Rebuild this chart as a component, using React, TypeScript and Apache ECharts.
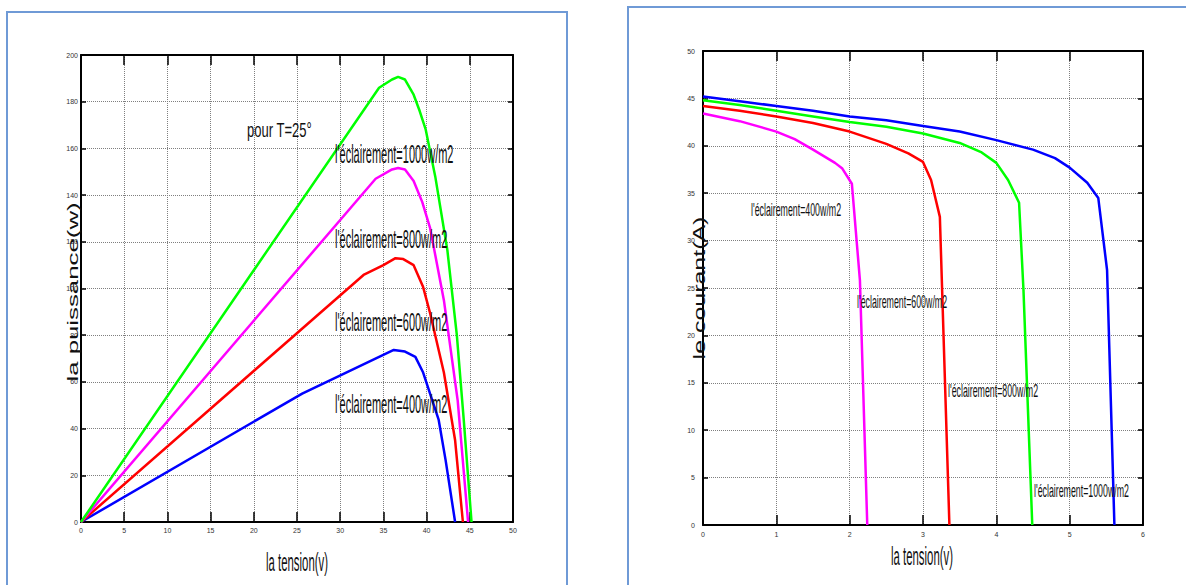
import React, { useEffect, useRef } from "react";
import * as echarts from "echarts";

// ---------- Left chart: P-V curves (la puissance vs la tension) ----------
const pv1000V = [0, 34.5, 36, 36.7, 37.5, 38.5, 39.2, 39.9, 41, 42.4, 43.5, 44.3, 45.2];
const pv1000P = [0, 186, 189.5, 190.6, 189.5, 183, 176, 168, 148, 116.5, 80, 43.7, 0];
const pv800V = [0, 34.1, 36, 36.7, 37.5, 38.5, 39.5, 40.4, 42, 43.6, 44.8];
const pv800P = [0, 147, 151, 151.6, 151, 146, 137, 126, 95, 52, 0];
const pv600V = [0, 32.7, 35, 36.4, 37.3, 38.5, 39.6, 40.4, 42, 43.3, 44.2];
const pv600P = [0, 105.8, 110, 113, 112.6, 110, 100.6, 89.5, 64, 35, 0];
const pv400V = [0, 25.6, 36.2, 37.5, 38.7, 39.6, 40.4, 41.4, 42.2, 43.3];
const pv400P = [0, 55, 73.7, 73, 70.7, 64, 55, 43.7, 26.5, 0];

// ---------- Right chart: I-V curves (le courant vs la tension) ----------
const iv1000V = [0, 0.5, 1, 1.5, 2, 2.5, 3, 3.5, 4, 4.5, 4.8, 5, 5.24, 5.39, 5.51, 5.61];
const iv1000I = [45.2, 44.7, 44.2, 43.7, 43.1, 42.7, 42.1, 41.5, 40.6, 39.6, 38.7, 37.7, 36.1, 34.5, 26.9, 0];
const iv800V = [0, 0.5, 1, 1.5, 2, 2.5, 3, 3.5, 3.8, 4.0, 4.16, 4.31, 4.37, 4.49];
const iv800I = [44.8, 44.3, 43.7, 43.1, 42.5, 42.0, 41.3, 40.3, 39.3, 38.2, 36.4, 34.0, 24.8, 0];
const iv600V = [0, 0.5, 1, 1.5, 2, 2.5, 2.8, 3.0, 3.11, 3.23, 3.36];
const iv600I = [44.2, 43.7, 43.1, 42.4, 41.5, 40.2, 39.2, 38.3, 36.4, 32.5, 0];
const iv400V = [0, 0.5, 1, 1.25, 1.5, 1.8, 1.9, 2.03, 2.14, 2.24];
const iv400I = [43.4, 42.6, 41.5, 40.7, 39.6, 38.2, 37.6, 36.0, 25.8, 0];

// Axis ranges
const pvXRange = [0, 50, 5];
const pvYRange = [0, 200, 20];
const ivXRange = [0, 6, 1];
const ivYRange = [0, 50, 5];

const pairs = (xs: number[], ys: number[]) => xs.map((x, i) => [x, ys[i]]);

export default function App() {
  const ref = useRef<HTMLDivElement>(null);
  useEffect(() => {
    const chart = echarts.init(ref.current!, null, { renderer: "svg", width: 1186, height: 585 });
    const narrow = "'Liberation Sans Narrow','Arial Narrow','Liberation Sans',sans-serif";
    const sans = "'Liberation Sans',Arial,sans-serif";
    const gridLine = { show: true, lineStyle: { color: "#7f7f7f", type: "dotted", width: 1 } };
    const axisLine = { show: true, onZero: false, lineStyle: { color: "#000", width: 2 } };
    const tick = (len: number) => ({ show: true, inside: true, length: len, lineStyle: { color: "#000", width: 1.5 } });
    const lbl = (size: number, margin: number) => ({ show: true, fontSize: size, fontFamily: narrow, color: "#333", margin });

    const mkAxes = (grid: number, r: number[], isX: boolean, size: number, margin: number, tickLen: number, tickLen2: number) => [
      {
        type: "value", gridIndex: grid, min: r[0], max: r[1], interval: r[2],
        position: isX ? "bottom" : "left",
        axisLine, axisTick: tick(tickLen), axisLabel: lbl(size, margin), splitLine: gridLine,
      },
      {
        type: "value", gridIndex: grid, min: r[0], max: r[1], interval: r[2],
        position: isX ? "top" : "right",
        axisLine, axisTick: tick(tickLen2), axisLabel: { show: false }, splitLine: { show: false },
      },
    ];

    const line = (xi: number, data: number[][], color: string) => ({
      type: "line", xAxisIndex: xi, yAxisIndex: xi, data, showSymbol: false, symbol: "none",
      lineStyle: { color, width: 2.5 }, itemStyle: { color }, z: 3,
    });

    const txt = (text: string, x: number, y: number, size: number, sx: number, align = "left", rot = 0) => ({
      type: "text", x, y, scaleX: sx, rotation: rot, silent: true, z: 10,
      style: { text, fontSize: size, fontFamily: sans, fill: "#111", textAlign: align, textVerticalAlign: "middle" },
    });

    chart.setOption({
      animation: false,
      backgroundColor: "#fff",
      grid: [
        { left: 81, top: 55, width: 432, height: 467 },
        { left: 703, top: 51, width: 440, height: 474 },
      ],
      xAxis: [
        ...mkAxes(0, pvXRange, true, 7, 5, 10, 10),
        ...mkAxes(1, ivXRange, true, 7, 6, 10, 10),
      ],
      yAxis: [
        ...mkAxes(0, pvYRange, false, 7, 3, 5, 5),
        ...mkAxes(1, ivYRange, false, 7, 8, 5, 5),
      ],
      series: [
        line(0, pairs(pv400V, pv400P), "#0000ff"),
        line(0, pairs(pv600V, pv600P), "#ff0000"),
        line(0, pairs(pv800V, pv800P), "#ff00ff"),
        line(0, pairs(pv1000V, pv1000P), "#00ff00"),
        line(2, pairs(iv400V, iv400I), "#ff00ff"),
        line(2, pairs(iv600V, iv600I), "#ff0000"),
        line(2, pairs(iv800V, iv800I), "#00ff00"),
        line(2, pairs(iv1000V, iv1000I), "#0000ff"),
      ],
      graphic: [
        { type: "rect", silent: true, z: -1, shape: { x: 7, y: 12, width: 560, height: 620 }, style: { fill: "none", stroke: "#6f9ad6", lineWidth: 2 } },
        { type: "rect", silent: true, z: -1, shape: { x: 628, y: 7, width: 620, height: 620 }, style: { fill: "none", stroke: "#6f9ad6", lineWidth: 2 } },
        txt("pour T=25°", 247, 130, 21, 0.62),
        txt("l'éclairement=1000w/m2", 335, 155, 25, 0.44),
        txt("l'éclairement=800w/m2", 335, 240, 25, 0.44),
        txt("l'éclairement=600w/m2", 335, 323, 25, 0.44),
        txt("l'éclairement=400w/m2", 335, 405, 25, 0.44),
        txt("la tension(v)", 297, 562, 25, 0.455, "center"),
        txt("la puissance(w)", 73, 292, 15, 1.72, "center", Math.PI / 2),
        txt("l'éclairement=400w/m2", 751, 210, 18, 0.49),
        txt("l'éclairement=600w/m2", 857, 302, 18, 0.49),
        txt("l'éclairement=800w/m2", 948, 391, 18, 0.49),
        txt("l'éclairement=1000w/m2", 1034, 491, 18, 0.49),
        txt("la tension(v)", 922, 556, 25, 0.455, "center"),
        txt("le courant(A)", 699, 288, 16, 1.56, "center", Math.PI / 2),
      ],
    });
    return () => chart.dispose();
  }, []);
  return <div ref={ref} style={{ position: "absolute", left: 0, top: 0, width: 1186, height: 585 }} />;
}
